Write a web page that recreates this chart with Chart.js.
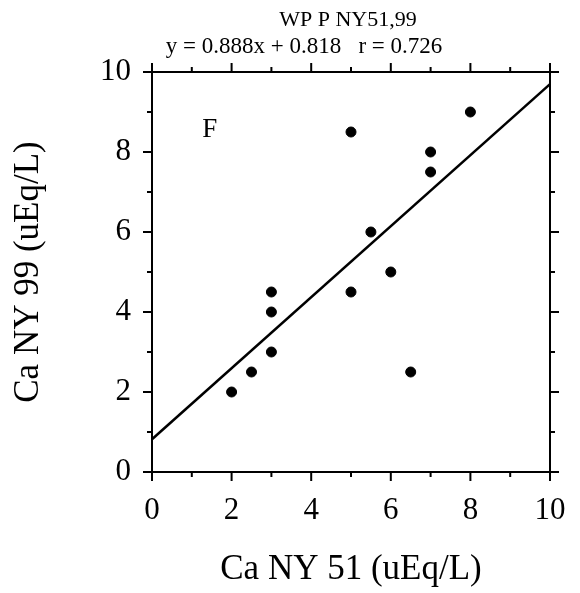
<!DOCTYPE html>
<html>
<head>
<meta charset="utf-8">
<script src="https://cdn.jsdelivr.net/npm/chart.js@4"></script>
<style>
  html, body { margin: 0; padding: 0; background: #fff; }
  #wrap { width: 580px; height: 593px; }
</style>
</head>
<body>
<div id="wrap"><canvas id="caChart" width="580" height="593"></canvas></div>
<script>
// Ca NY 51 vs Ca NY 99 (uEq/L)
const caNY51 = [2, 2.5, 3, 3, 3, 5, 5, 5.5, 6, 6.5, 7, 7, 8];
const caNY99 = [2, 2.5, 3, 4, 4.5, 4.5, 8.5, 6, 5, 2.5, 7.5, 8, 9];

// linea de regresion
const fitSlope = 0.888;
const fitIntercept = 0.818;
const fitX = [0, 10];

const axisMin = 0;
const axisMax = 10;

const titleText = 'WP P NY51,99';
const fitText = 'y = 0.888x + 0.818   r = 0.726';
const panelLabel = 'F';

const serif = '"Liberation Serif", "Times New Roman", serif';

// marco con marcas hacia afuera en los cuatro lados
const framePlugin = {
  id: 'frame',
  afterDatasetsDraw(chart) {
    const { ctx, chartArea: a, scales } = chart;
    ctx.save();
    ctx.strokeStyle = '#000';
    ctx.lineWidth = 2;
    ctx.strokeRect(a.left, a.top, a.right - a.left, a.bottom - a.top);
    for (let v = axisMin; v <= axisMax; v++) {
      const len = v % 2 === 0 ? 9 : 5;
      const px = scales.x.getPixelForValue(v);
      const py = scales.y.getPixelForValue(v);
      ctx.beginPath();
      ctx.moveTo(px, a.bottom); ctx.lineTo(px, a.bottom + len);
      ctx.moveTo(px, a.top); ctx.lineTo(px, a.top - len);
      ctx.moveTo(a.left, py); ctx.lineTo(a.left - len, py);
      ctx.moveTo(a.right, py); ctx.lineTo(a.right + len, py);
      ctx.stroke();
    }
    // textos
    ctx.fillStyle = '#000';
    ctx.textBaseline = 'middle';
    ctx.textAlign = 'center';
    ctx.font = '22px ' + serif;
    ctx.fillText(titleText, (a.left + a.right) / 2 - 3, 20);
    ctx.font = '23px ' + serif;
    ctx.fillText(fitText, a.left + 152, 47);
    ctx.font = '27px ' + serif;
    ctx.fillText(panelLabel, scales.x.getPixelForValue(1.45), scales.y.getPixelForValue(8.55));
    ctx.restore();
  }
};

const ctx = document.getElementById('caChart').getContext('2d');
new Chart(ctx, {
  data: {
    datasets: [
      {
        type: 'scatter',
        data: caNY51.map((x, i) => ({ x: x, y: caNY99[i] })),
        backgroundColor: '#000',
        borderColor: '#000',
        pointRadius: 5,
        pointHoverRadius: 5
      },
      {
        type: 'line',
        data: fitX.map(x => ({ x: x, y: fitSlope * x + fitIntercept })),
        borderColor: '#000',
        borderWidth: 2.5,
        pointRadius: 0,
        fill: false
      }
    ]
  },
  options: {
    responsive: false,
    animation: false,
    layout: { padding: { top: 72, right: 30, left: 0, bottom: 0 } },
    plugins: {
      legend: { display: false },
      tooltip: { enabled: false }
    },
    scales: {
      x: {
        type: 'linear',
        min: axisMin,
        max: axisMax,
        afterFit: s => { s.height = 121; },
        grid: { display: false },
        border: { display: false },
        ticks: { stepSize: 2, color: '#000', padding: 12, font: { family: serif, size: 31 } },
        title: { display: true, text: 'Ca NY 51 (uEq/L)', color: '#000', font: { family: serif, size: 35 }, padding: { top: 0, bottom: 2 } }
      },
      y: {
        type: 'linear',
        min: axisMin,
        max: axisMax,
        afterFit: s => { s.width = 152; },
        grid: { display: false },
        border: { display: false },
        ticks: { stepSize: 2, color: '#000', padding: 13, font: { family: serif, size: 31 } },
        title: { display: true, text: 'Ca NY 99 (uEq/L)', color: '#000', font: { family: serif, size: 35 }, padding: { top: 8, bottom: 0 } }
      }
    }
  },
  plugins: [framePlugin]
});
</script>
</body>
</html>
